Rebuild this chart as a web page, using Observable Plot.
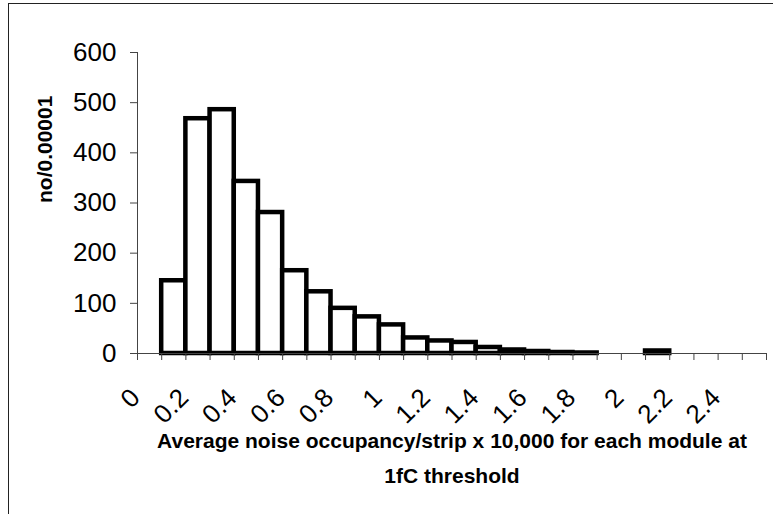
<!DOCTYPE html>
<html><head><meta charset="utf-8">
<script src="https://cdn.jsdelivr.net/npm/d3@7"></script>
<script src="https://cdn.jsdelivr.net/npm/@observablehq/plot@0.6"></script>
<style>
html,body{margin:0;padding:0;background:#fff;overflow:hidden;}
#wrap{position:relative;width:773px;height:514px;overflow:hidden;}
#border{position:absolute;left:8px;top:3px;width:900px;height:700px;border:1.5px solid #222;pointer-events:none;}
svg{position:absolute;left:0;top:0;}
</style></head><body><div id="wrap"><div id="chart"></div><div id="border"></div></div>
<script>
const categories = ["0","0.1","0.2","0.3","0.4","0.5","0.6","0.7","0.8","0.9","1","1.1","1.2","1.3","1.4","1.5","1.6","1.7","1.8","1.9","2","2.1","2.2","2.3","2.4","2.5"];
const counts = [0,145,468,486,343,281,165,123,90,73,57,31,25,22,12,7,4,2,1,0,0,5,0,0,0,0];
const tickLabels = ["0","0.2","0.4","0.6","0.8","1","1.2","1.4","1.6","1.8","2","2.2","2.4"];
const yTicks = [0,100,200,300,400,500,600];
const xTitle = "Average noise occupancy/strip x 10,000 for each module at\n1fC threshold";
const yTitle = "no/0.00001";

const bars = categories.map((c, i) => ({i, c, n: counts[i]}));
const font = "'Liberation Sans', Arial, sans-serif";

const chart = Plot.plot({
  width: 773,
  height: 514,
  marginLeft: 137,
  marginRight: 7,
  marginTop: 52,
  marginBottom: 161,
  style: {fontFamily: font, background: "white", color: "black"},
  x: {type: "linear", domain: [0, categories.length]},
  y: {domain: [0, 600]},
  marks: [
    Plot.rectY(bars, {x1: "i", x2: d => d.i + 1, y: "n", fill: "white", stroke: "black", strokeWidth: 4.5}),
    Plot.ruleX([0], {stroke: "#444", strokeWidth: 1}),
    Plot.ruleY([0], {stroke: "#444", strokeWidth: 1}),
    Plot.axisY({ticks: yTicks, tickSize: 7, tickFormat: () => "", label: null, stroke: "#444"}),
    Plot.text(yTicks, {x: 0, y: d => d, text: d => String(d), textAnchor: "end", dx: -21, fontSize: 26}),
    Plot.axisX({ticks: d3.range(categories.length + 1), tickSize: 7, tickFormat: () => "", label: null, stroke: "#444"}),
    Plot.text(tickLabels, {x: d => categories.indexOf(d) + 0.5, y: 0, text: d => d, rotate: -45, textAnchor: "end", lineAnchor: "middle", dx: -14, dy: 40, fontSize: 26}),
    Plot.text([xTitle], {frameAnchor: "bottom", dy: 101, lineAnchor: "middle", lineHeight: 1.65, fontSize: 21, fontWeight: "bold", text: d => d}),
    Plot.text([yTitle], {frameAnchor: "left", dx: -92, rotate: -90, fontSize: 21, fontWeight: "bold", text: d => d})
  ]
});
document.getElementById("chart").appendChild(chart);
</script>
</body></html>
